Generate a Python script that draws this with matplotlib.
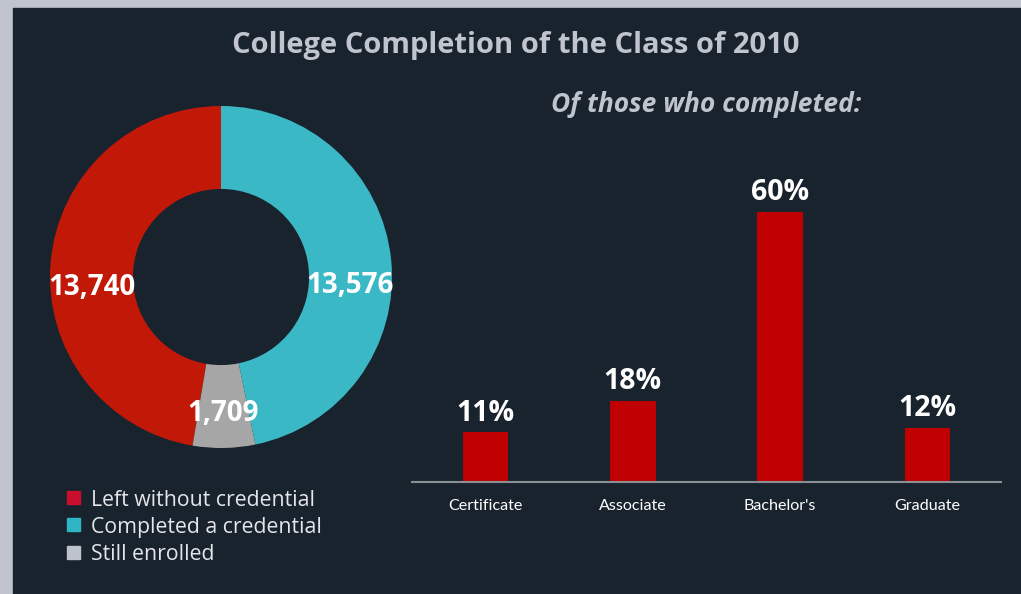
import numpy as np
import matplotlib
matplotlib.use("Agg")
import matplotlib.pyplot as plt
from matplotlib.patches import Rectangle

# donut data (counterclockwise from 12 o'clock)
status = ["Left without credential", "Still enrolled", "Completed a credential"]
counts = [13740, 1709, 13576]
legend_order = ["Left without credential", "Completed a credential", "Still enrolled"]

# bar data
degrees = ["Certificate", "Associate", "Bachelor's", "Graduate"]
pct = [11, 18, 60, 12]

BG = "#18232d"
FRAME = "#c0c4ce"
TXT = "#c0c4ce"
pie_colors = {"Left without credential": "#c21807",
              "Completed a credential": "#3bb8c6",
              "Still enrolled": "#a6a6a6"}
legend_colors = {"Left without credential": "#c8102e",
                 "Completed a credential": "#2fb5c5",
                 "Still enrolled": "#bec2cc"}
BAR = "#c00000"
# small downward nudges of the donut labels (axes data units), as in the original
label_dy = [-0.125, -0.04, -0.125]

W, H = 1021, 594
fig = plt.figure(figsize=(W / 100, H / 100), dpi=100, facecolor=FRAME)
fig.patches.append(Rectangle((13 / W, 0), 1 - 13 / W, 1 - 8 / H,
                             transform=fig.transFigure, color=BG, zorder=-5))


def px_axes(x0, y0, x1, y1):
    # pixel box (top-left origin) -> figure axes
    return fig.add_axes([x0 / W, 1 - y1 / H, (x1 - x0) / W, (y1 - y0) / H])


fig.text(516 / W, 1 - 46 / H, "College Completion of the Class of 2010",
         ha="center", va="center", color=TXT, fontsize=21, fontweight="bold",
         family="Open Sans")
fig.text(706 / W, 1 - 105 / H, "Of those who completed:",
         ha="center", va="center", color=TXT, fontsize=19, fontweight="bold",
         style="italic", family="Open Sans")

# donut
ax = px_axes(50, 106, 392, 448)
ax.set_facecolor("none")
wedges, _ = ax.pie(counts, colors=[pie_colors[s] for s in status], startangle=90,
                   counterclock=True, radius=1,
                   wedgeprops=dict(width=0.485, edgecolor="none"))
ax.set_xlim(-1, 1)
ax.set_ylim(-1, 1)
ax.set_aspect("equal")
for w, c, dy in zip(wedges, counts, label_dy):
    ang = np.deg2rad((w.theta1 + w.theta2) / 2)
    r = 1 - 0.485 / 2
    ax.text(r * np.cos(ang), r * np.sin(ang) + dy, f"{c:,}", ha="center",
            va="center", color="white", fontsize=20, fontweight="bold",
            family="Open Sans")

# legend
for i, s in enumerate(legend_order):
    yc = 497 + i * 27.5
    fig.patches.append(Rectangle((67 / W, 1 - (yc + 6.5) / H), 13 / W, 13 / H,
                                 transform=fig.transFigure,
                                 color=legend_colors[s], zorder=2))
    fig.text(91 / W, 1 - (yc + 3) / H, s, ha="left", va="center",
             color="#e4e6ea", fontsize=15.3, family="Open Sans")

# bars
bx = px_axes(412, 152, 1001, 482)
bx.set_facecolor("none")
xs = range(len(degrees))
bx.bar(xs, pct, width=0.31, color=BAR)
for x, v in zip(xs, pct):
    bx.text(x, v + 1.1, f"{v}%", ha="center", va="bottom", color="white",
            fontsize=20.5, fontweight="bold", family="Open Sans")
bx.set_xlim(-0.5, 3.5)
bx.set_ylim(0, 73.3)
bx.set_xticks(list(xs))
bx.set_xticklabels(degrees, color="white", fontsize=11.6, family="Lato")
bx.tick_params(axis="x", length=0, pad=12)
bx.set_yticks([])
for sp in ["top", "right", "left"]:
    bx.spines[sp].set_visible(False)
bx.spines["bottom"].set_color("#8a8f94")
bx.spines["bottom"].set_linewidth(1.5)

fig.savefig("out.png", dpi=100, facecolor=FRAME)
